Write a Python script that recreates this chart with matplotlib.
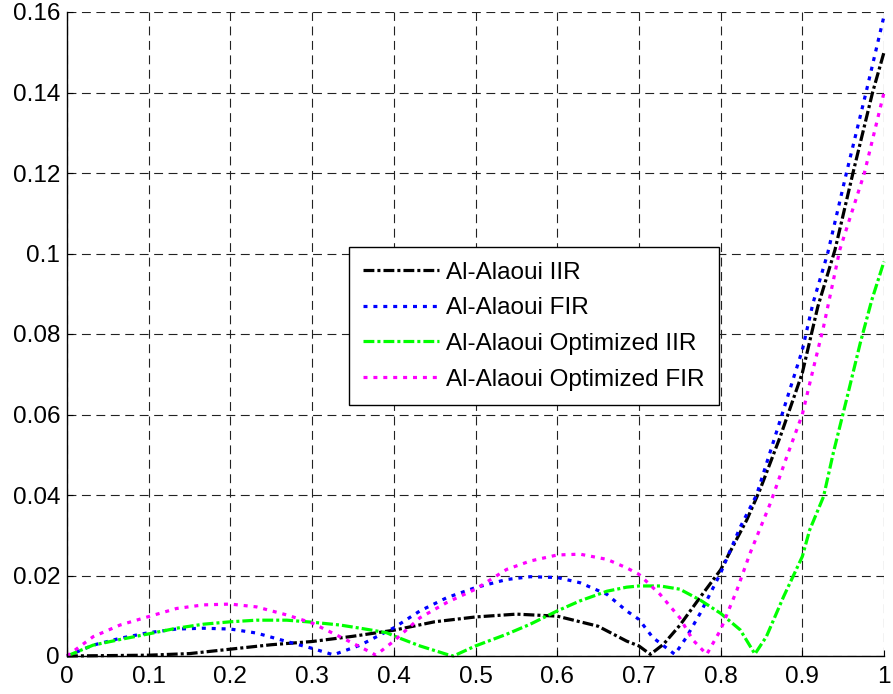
import matplotlib
matplotlib.use("Agg")
import matplotlib.pyplot as plt

plt.rcParams['font.family'] = ['Liberation Sans', 'DejaVu Sans']

# Al-Alaoui IIR (black, dash-dot)
x_iir = [0, 0.05, 0.1, 0.15, 0.2, 0.25, 0.3, 0.35, 0.4, 0.45, 0.5, 0.55, 0.6, 0.65,
         0.685, 0.7, 0.714, 0.73, 0.75, 0.775, 0.8, 0.832, 0.848, 0.873, 0.9, 0.919,
         0.94, 0.962, 0.986, 1.0]
y_iir = [0, 0.0001, 0.0002, 0.0006, 0.0017, 0.0028, 0.0036, 0.0049, 0.0064, 0.0085,
         0.0097, 0.0104, 0.0099, 0.0074, 0.0037, 0.0025, 0.0004, 0.0029, 0.0076,
         0.0146, 0.0214, 0.0338, 0.0412, 0.0545, 0.0703, 0.0868, 0.1009, 0.12,
         0.14, 0.15]

# Al-Alaoui FIR (blue, dotted)
x_fir = [0, 0.032, 0.065, 0.1, 0.134, 0.167, 0.2, 0.232, 0.269, 0.3, 0.326, 0.359,
         0.4, 0.432, 0.465, 0.5, 0.538, 0.567, 0.6, 0.628, 0.661, 0.685, 0.7, 0.717,
         0.744, 0.758, 0.775, 0.8, 0.824, 0.844, 0.873, 0.9, 0.913, 0.931, 0.954,
         0.978, 1.0]
y_fir = [0, 0.0027, 0.0044, 0.0058, 0.0067, 0.0069, 0.0067, 0.0057, 0.0036, 0.0019,
         0.0003, 0.0027, 0.007, 0.0112, 0.0145, 0.017, 0.019, 0.0197, 0.0195, 0.0182,
         0.0153, 0.0112, 0.0091, 0.0046, 0.0004, 0.0046, 0.0106, 0.0206, 0.032, 0.040,
         0.0586, 0.076, 0.0876, 0.1, 0.12, 0.14, 0.159]

# Al-Alaoui Optimized IIR (green, dash-dot)
x_oiir = [0, 0.032, 0.065, 0.1, 0.134, 0.167, 0.2, 0.232, 0.269, 0.3, 0.334, 0.359,
          0.391, 0.4, 0.432, 0.465, 0.473, 0.5, 0.538, 0.567, 0.6, 0.628, 0.661, 0.685,
          0.7, 0.726, 0.75, 0.775, 0.8, 0.824, 0.842, 0.856, 0.877, 0.9, 0.909, 0.926,
          0.938, 0.954, 0.971, 0.985, 1.0]
y_oiir = [0, 0.0027, 0.0041, 0.0055, 0.0069, 0.0079, 0.0085, 0.0089, 0.0089, 0.0084,
          0.0077, 0.0069, 0.0058, 0.005, 0.0025, 0.0004, 0.0, 0.0025, 0.0054, 0.0079,
          0.0112, 0.0137, 0.0161, 0.0171, 0.0174, 0.0174, 0.0166, 0.0139, 0.0106,
          0.0065, 0.0005, 0.0048, 0.0147, 0.0247, 0.0313, 0.0396, 0.0505, 0.0636,
          0.0778, 0.0884, 0.098]

# Al-Alaoui Optimized FIR (magenta, dotted)
x_ofir = [0, 0.032, 0.065, 0.1, 0.134, 0.167, 0.2, 0.232, 0.269, 0.3, 0.334, 0.371,
          0.378, 0.4, 0.432, 0.465, 0.5, 0.538, 0.567, 0.6, 0.628, 0.661, 0.685, 0.7,
          0.726, 0.75, 0.766, 0.783, 0.8, 0.82, 0.836, 0.861, 0.881, 0.9, 0.913, 0.926,
          0.946, 0.976, 1.0]
y_ofir = [0, 0.0048, 0.0077, 0.0098, 0.0118, 0.0127, 0.0129, 0.0122, 0.0102, 0.0082,
          0.0048, 0.001, 0.0002, 0.0037, 0.0095, 0.0133, 0.0166, 0.0215, 0.0236, 0.0251,
          0.0253, 0.024, 0.0219, 0.0203, 0.0153, 0.0095, 0.004, 0.0004, 0.0065, 0.0164,
          0.0255, 0.038, 0.0495, 0.06, 0.071, 0.0818, 0.101, 0.12, 0.14]

labels = ['Al-Alaoui IIR', 'Al-Alaoui FIR', 'Al-Alaoui Optimized IIR',
          'Al-Alaoui Optimized FIR']

x_ticks = [0, 0.1, 0.2, 0.3, 0.4, 0.5, 0.6, 0.7, 0.8, 0.9, 1.0]
x_tick_labels = ['0', '0.1', '0.2', '0.3', '0.4', '0.5', '0.6', '0.7', '0.8', '0.9', '1']
y_ticks = [0, 0.02, 0.04, 0.06, 0.08, 0.10, 0.12, 0.14, 0.16]
y_tick_labels = ['0', '0.02', '0.04', '0.06', '0.08', '0.1', '0.12', '0.14', '0.16']

fig = plt.figure(figsize=(8.93, 6.94), dpi=100)
ax = fig.add_axes([67 / 893, 38 / 694, 817 / 893, 644 / 694])

dashdot = (0, (3.4, 0.95, 0.95, 0.95))
dotted = (0, (1.25, 1.85))
lw = 2.3
ax.plot(x_iir, y_iir, color='black', lw=lw, linestyle=dashdot, label=labels[0], clip_on=False)
ax.plot(x_fir, y_fir, color='#0000ff', lw=lw, linestyle=dotted, label=labels[1], clip_on=False)
ax.plot(x_oiir, y_oiir, color='#00ff00', lw=lw, linestyle=dashdot, label=labels[2], clip_on=False)
ax.plot(x_ofir, y_ofir, color='#ff00ff', lw=lw, linestyle=dotted, label=labels[3], clip_on=False)

ax.set_xlim(0, 1)
ax.set_ylim(0, 0.16)
ax.set_xticks(x_ticks)
ax.set_xticklabels(x_tick_labels)
ax.set_yticks(y_ticks)
ax.set_yticklabels(y_tick_labels)
ax.tick_params(direction='in', length=4, labelsize=17.5, colors='black')
ax.tick_params(axis='y', pad=5)
ax.tick_params(axis='x', pad=7)

ax.grid(True, color='#222222', linestyle=(0, (8, 5)), linewidth=0.8)
ax.set_axisbelow(True)
for s in ['top', 'right']:
    ax.spines[s].set_visible(False)
for s in ['left', 'bottom']:
    ax.spines[s].set_linewidth(1.0)
    ax.spines[s].set_color('black')

leg = ax.legend(loc='upper left', bbox_to_anchor=(0.345, 0.635), fontsize=17.5,
                fancybox=False, framealpha=1, edgecolor='black', handlelength=3.1,
                handletextpad=0.3, labelspacing=0.56, borderpad=0.6,
                borderaxespad=0)
leg.get_frame().set_linewidth(1.0)

fig.savefig('out.png', dpi=100)
